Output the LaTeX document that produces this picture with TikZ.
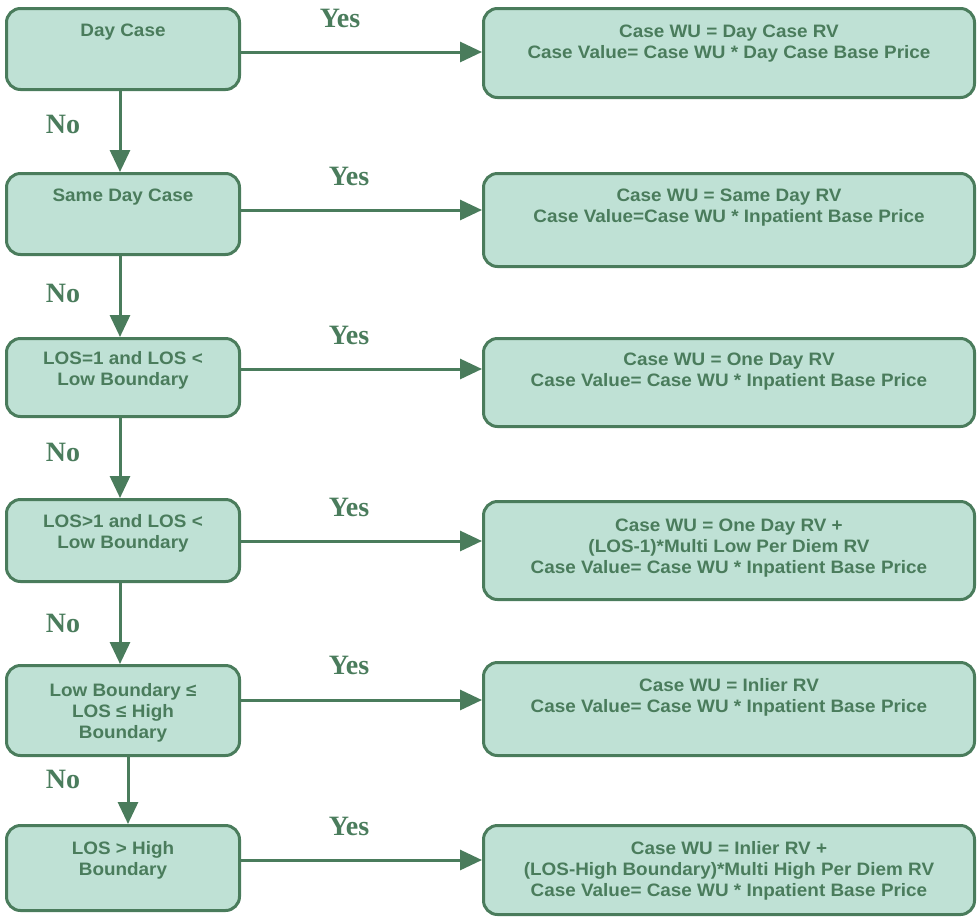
\documentclass[tikz,border=0pt]{standalone}
\usepackage{fontspec}
\setmainfont{Liberation Sans}
\newfontfamily\boxfont[FakeStretch=1.05]{Liberation Sans}
\newfontfamily\labelfont{Liberation Serif}
\usetikzlibrary{arrows.meta}
\definecolor{boxfill}{HTML}{BFE1D5}
\definecolor{boxline}{HTML}{4A7C5C}
\tikzset{
  box/.style={draw=boxline, fill=boxfill, line width=3pt, rounded corners=14pt, inner sep=0pt},
  lbox/.style={box, minimum width=233pt},
  rbox/.style={box, minimum width=491pt},
  txt/.style={text=boxline, font=\fontsize{18}{21}\boxfont\bfseries, align=center, anchor=north, inner sep=0pt},
  lab/.style={text=boxline, font=\fontsize{28}{30}\labelfont\bfseries, anchor=base, inner sep=0pt},
  arr/.style={draw=boxline, line width=3pt, -{Triangle[length=22pt,width=20pt]}},
}
\newcommand{\fl}{\rule{0pt}{13pt}}
\begin{document}
\begin{tikzpicture}[x=1pt,y=-1pt]
\useasboundingbox (0,0) rectangle (979,919);
% left boxes
\node[lbox, minimum height=81pt] (L1) at (123,49) {};
\node[lbox, minimum height=81pt] (L2) at (123,214) {};
\node[lbox, minimum height=78pt] (L3) at (123,377.5) {};
\node[lbox, minimum height=82pt] (L4) at (123,540.5) {};
\node[lbox, minimum height=90pt] (L5) at (123,710.5) {};
\node[lbox, minimum height=85pt] (L6) at (123,868) {};
% right boxes
\node[rbox, minimum height=89pt] (R1) at (729,53) {};
\node[rbox, minimum height=93pt] (R2) at (729,220) {};
\node[rbox, minimum height=88pt] (R3) at (729,382.5) {};
\node[rbox, minimum height=98pt] (R4) at (729,550.5) {};
\node[rbox, minimum height=93pt] (R5) at (729,709) {};
\node[rbox, minimum height=89pt] (R6) at (729,870) {};
% left texts
\node[txt] (tL1) at (123,23) {\fl Day Case};
\node[txt] (tL2) at (123,188) {\fl Same Day Case};
\node[txt] (tL3) at (123,351) {\fl LOS=1 and LOS <\\Low Boundary};
\node[txt] (tL4) at (123,514) {\fl LOS>1 and LOS <\\Low Boundary};
\node[txt] (tL5) at (123,683) {\fl Low Boundary ≤\\LOS ≤ High\\Boundary};
\node[txt] (tL6) at (123,841) {\fl LOS > High\\Boundary};
% right texts
\node[txt] (tR1) at (729,24) {\fl Case WU = Day Case RV\\Case Value= Case WU * Day Case Base Price};
\node[txt] (tR2) at (729,188) {\fl Case WU = Same Day RV\\Case Value=Case WU * Inpatient Base Price};
\node[txt] (tR3) at (729,352) {\fl Case WU = One Day RV\\Case Value= Case WU * Inpatient Base Price};
\node[txt] (tR4) at (729,518) {\fl Case WU = One Day RV +\\(LOS-1)*Multi Low Per Diem RV\\Case Value= Case WU * Inpatient Base Price};
\node[txt] (tR5) at (729,678) {\fl Case WU = Inlier RV\\Case Value= Case WU * Inpatient Base Price};
\node[txt] (tR6) at (729,841) {\fl Case WU = Inlier RV +\\(LOS-High Boundary)*Multi High Per Diem RV\\Case Value= Case WU * Inpatient Base Price};
% yes arrows
\draw[arr] (L1.east |- 0,52) -- (R1.west |- 0,52);
\draw[arr] (L2.east |- 0,210) -- (R2.west |- 0,210);
\draw[arr] (L3.east |- 0,369) -- (R3.west |- 0,369);
\draw[arr] (L4.east |- 0,541) -- (R4.west |- 0,541);
\draw[arr] (L5.east |- 0,700) -- (R5.west |- 0,700);
\draw[arr] (L6.east |- 0,860) -- (R6.west |- 0,860);
% no arrows
\draw[arr] (120,0 |- L1.south) -- (120,0 |- L2.north);
\draw[arr] (120,0 |- L2.south) -- (120,0 |- L3.north);
\draw[arr] (120,0 |- L3.south) -- (120,0 |- L4.north);
\draw[arr] (120,0 |- L4.south) -- (120,0 |- L5.north);
\draw[arr] (128,0 |- L5.south) -- (128,0 |- L6.north);
% labels
\node[lab] (y1) at (340,27) {Yes};
\node[lab] (y2) at (349,185) {Yes};
\node[lab] (y3) at (349,344) {Yes};
\node[lab] (y4) at (349,516) {Yes};
\node[lab] (y5) at (349,674) {Yes};
\node[lab] (y6) at (349,835) {Yes};
\node[lab] (n1) at (63,133) {No};
\node[lab] (n2) at (63,302) {No};
\node[lab] (n3) at (63,461) {No};
\node[lab] (n4) at (63,632) {No};
\node[lab] (n5) at (63,788) {No};
\end{tikzpicture}
\end{document}
